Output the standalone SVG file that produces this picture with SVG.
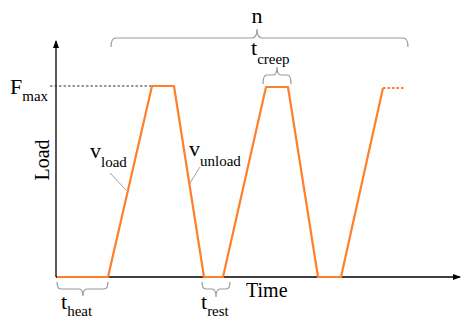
<svg xmlns="http://www.w3.org/2000/svg" width="462" height="320" viewBox="0 0 462 320">
<style>
.ax{stroke:#000;stroke-width:1.3;fill:none}
.ld{stroke:#FF7F2A;stroke-width:2.2;fill:none;stroke-linejoin:round}
.br{stroke:#999;stroke-width:1.2;fill:none}
.ll{stroke:#999;stroke-width:0.9;fill:none}
.big{font-size:22px}
.sub{font-size:15px}
</style>
<defs>
<marker id="ah" markerWidth="8" markerHeight="8" refX="7" refY="4" orient="auto" markerUnits="userSpaceOnUse">
<path d="M0,1 L8,4 L0,7 Z" fill="#000"/>
</marker>
</defs>
<rect width="462" height="320" fill="#fff"/>
<g id="axes">
<line class="ax" x1="56" y1="277" x2="56" y2="41" marker-end="url(#ah)"/>
<line class="ax" x1="56" y1="277" x2="460" y2="277" marker-end="url(#ah)"/>
<line x1="50" y1="86" x2="152" y2="86" stroke="#333" stroke-width="1" stroke-dasharray="2.5,2"/>
</g>
<g id="load-curve">
<polyline class="ld" points="57,277 108,277 152,86 174,86 204,277 223,277 266,87 288,87 318,277 341,277 383,88"/>
<line class="ld" x1="383" y1="88" x2="405" y2="88" stroke-dasharray="2.5,2" stroke-linejoin="miter"/>
</g>
<g id="braces">
<path class="br" d="M111,47 Q111,38 116,38 L252,38 Q257,38 257,29 Q257,38 262,38 L403,38 Q408,38 408,47"/>
<path class="br" d="M263,84 Q263,75 267,75 L273,75 Q277,75 277,67 Q277,75 281,75 L287,75 Q291,75 291,84"/>
<path class="br" d="M57,282 Q57,289 61,289 L79,289 Q83,289 83,296 Q83,289 87,289 L104,289 Q108,289 108,282"/>
<path class="br" d="M202,282 Q202,289 206,289 L212,289 Q216,289 216,297 Q216,289 220,289 L226,289 Q230,289 230,282"/>
</g>
<g id="connectors">
<line class="ll" x1="110" y1="173" x2="126" y2="190"/>
<line class="ll" x1="200" y1="167" x2="190" y2="183"/>
</g>
<g id="labels" font-family="Liberation Serif, DejaVu Serif, serif" fill="#000">
<text class="big" x="257" y="23" text-anchor="middle">n</text>
<text x="251" y="55"><tspan class="big">t</tspan><tspan class="sub" dy="9">creep</tspan></text>
<text x="10" y="94"><tspan class="big">F</tspan><tspan class="sub" dy="7">max</tspan></text>
<text x="90" y="158"><tspan class="big">v</tspan><tspan class="sub" dy="9">load</tspan></text>
<text x="189" y="156"><tspan class="big">v</tspan><tspan class="sub" dy="10">unload</tspan></text>
<text transform="translate(49,160) rotate(-90)" text-anchor="middle" font-size="20">Load</text>
<text x="246" y="297" font-size="20">Time</text>
<text x="61" y="309"><tspan class="big">t</tspan><tspan class="sub" dy="7">heat</tspan></text>
<text x="201" y="309"><tspan class="big">t</tspan><tspan class="sub" dy="7">rest</tspan></text>
</g>
</svg>
